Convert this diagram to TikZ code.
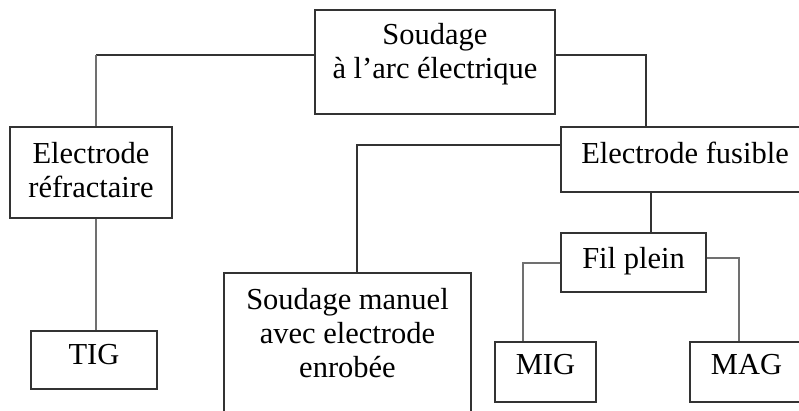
\documentclass[tikz,border=0pt]{standalone}
\usepackage{fontspec}
\setmainfont{Liberation Serif}

\tikzset{
  boite/.style={draw={rgb, 255:red, 51; green, 51; blue, 51}, line width=1.5pt, inner sep=0pt},
  intitule/.style={align=center, inner sep=0pt, anchor=north, yshift=-#1, font=\fontsize{30.5}{34}\selectfont},
  lien/.style={draw={rgb, 255:red, 51; green, 51; blue, 51}, line width=1.5pt},
  liengris/.style={draw={rgb, 255:red, 112; green, 112; blue, 112}, line width=2.4pt},
}

\begin{document}
\begin{tikzpicture}[x=1pt,y=1pt,yscale=-1,xscale=1]
\useasboundingbox (0,0) rectangle (799,411);
\clip (0,0) rectangle (799,411);

%Boites
\node[boite, minimum width=240, minimum height=104, label={[intitule=14pt]north:{Soudage\\à l’arc électrique}}] (arc) at (435,62) {};
\node[boite, minimum width=162, minimum height=91, label={[intitule=16pt]north:{Electrode\\réfractaire}}] (refr) at (91,172.5) {};
\node[boite, minimum width=126, minimum height=58, label={[intitule=14pt]north:{TIG}}] (tig) at (94,360) {};
\node[boite, minimum width=248, minimum height=65, label={[intitule=15.5pt]north:{Electrode fusible}}] (fus) at (685,159.5) {};
\node[boite, minimum width=247, minimum height=167, label={[intitule=16pt]north:{Soudage manuel\\avec electrode\\enrobée}}] (manuel) at (347.5,356.5) {};
\node[boite, minimum width=145, minimum height=59, label={[intitule=15pt]north:{Fil plein}}] (fil) at (633.5,262.5) {};
\node[boite, minimum width=101, minimum height=60, label={[intitule=13pt]north:{MIG}}] (mig) at (545.5,372) {};
\node[boite, minimum width=113, minimum height=60, label={[intitule=13pt]north:{MAG}}] (mag) at (746.5,372) {};

%Coudes
\coordinate (k1) at (96,55);
\coordinate (k2) at (646,55);
\coordinate (k3) at (357,145);
\coordinate (k4) at (651,212);
\coordinate (k5) at (523,263);
\coordinate (k6) at (739,258);

%Liens
\draw[lien] (arc.west |- k1) -- (k1);
\draw[liengris] (k1) -- (k1 |- refr.north);
\draw[liengris] (k1 |- refr.south) -- (k1 |- tig.north);
\draw[lien] (arc.east |- k2) -- (k2) -- (k2 |- fus.north);
\draw[lien] (fus.west |- k3) -- (k3) -- (k3 |- manuel.north);
\draw[lien] (k4 |- fus.south) -- (k4 |- fil.north);
\draw[liengris] (fil.west |- k5) -- (k5) -- (k5 |- mig.north);
\draw[liengris] (fil.east |- k6) -- (k6) -- (k6 |- mag.north);

\end{tikzpicture}
\end{document}
